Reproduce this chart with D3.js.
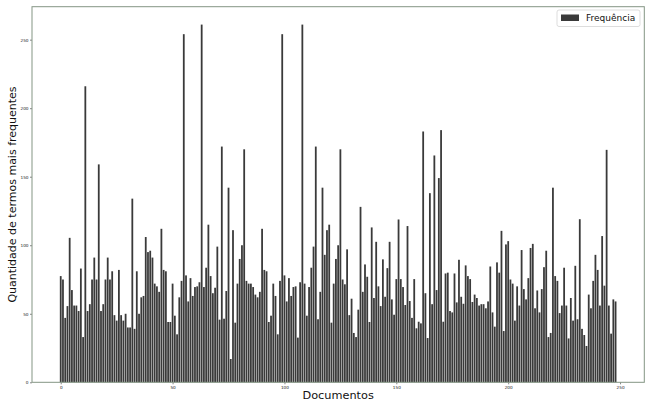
<!DOCTYPE html>
<html>
<head>
<meta charset="utf-8">
<script src="https://cdn.jsdelivr.net/npm/d3@7"></script>
<style>
  body { margin: 0; background: #fff; }
  svg { display: block; font-family: "DejaVu Sans", sans-serif; }
</style>
</head>
<body>
<script>
'use strict';
// quantidade de termos por documento
const freqValues = [
  77.5, 75, 47, 55.6, 105.4, 67.3, 56, 56, 52, 83, 33, 216, 52, 57, 75, 91, 75, 159, 52, 57,
  75, 91, 75, 81, 49, 45, 82, 49, 45, 50, 40, 40, 134, 39, 81, 50, 62, 63, 106, 95,
  96, 91, 72, 70, 66, 112, 82, 81, 44, 44, 72, 48.6, 35, 62, 74, 254, 78, 59, 76, 63,
  69.5, 70, 73, 261, 69.5, 83.6, 115, 77.5, 65, 69, 99, 45.7, 172, 46.4, 66.6, 142, 17, 111, 43.5, 72,
  90, 100, 170, 74, 72, 72, 69.5, 64, 62, 66, 112, 82, 81, 44, 48.6, 72, 63, 35, 74, 254,
  78, 59, 76, 63, 69.5, 70, 32.6, 73, 261, 72, 48.6, 69.5, 83.6, 99, 172, 46, 66, 142, 93, 111,
  115, 43.5, 72, 90, 100, 170, 75, 71.5, 97, 49, 61, 36, 33, 53, 128, 66, 86, 77, 44, 113,
  61.5, 102.5, 70, 55.6, 89.7, 62.4, 83.3, 102.5, 60.5, 49.3, 75.3, 118.8, 75.3, 69.5, 56.4, 114, 59.3, 47, 75.3, 39.4,
  44.2, 43, 183, 65, 32.3, 138, 57, 165.5, 67.3, 149, 184, 44.2, 79.4, 80, 52, 51, 79.4, 58.3, 89.4, 62.4,
  57.3, 85.3, 77.5, 75.3, 58.6, 64, 61.5, 56, 57, 57, 54, 59, 84.5, 51, 40.6, 87.5, 80, 110.5, 37.4, 100.6,
  103, 75, 72, 45, 70, 56, 96.5, 68, 60.5, 76, 98, 101, 54, 67, 51, 68, 84, 96, 33, 36,
  142, 77.5, 74, 50.5, 56, 83.6, 56, 32, 61.5, 45, 85, 46, 119, 39, 34.5, 26.5, 64, 54, 74, 93,
  82, 56, 106.7, 70.5, 169.6, 56, 35.5, 60.5, 59
];
const xTicks = [0, 50, 100, 150, 200, 250];
const yTicks = [0, 50, 100, 150, 200, 250];
const xLabel = "Documentos";
const yLabel = "Quantidade de termos mais frequentes";
const legendLabel = "Frequência";

(function () {
  let svg = "";
  const W = 650, H = 404;
  const plot = { left: 32, right: 644.3, top: 6.7, bottom: 382.3 };
  const barColor = "#3a3a3a";
  const spineColor = "#849584";

  window.onload = function () {
    svg = d3.select('body')
      .append('svg')
      .attr('width', W)
      .attr('height', H);
    makeBarChart();
  }

  function makeBarChart() {
    let docs = d3.range(freqValues.length);
    // margens como no matplotlib (5%)
    let lo = -0.4, hi = docs.length - 1 + 0.4;
    let pad = (hi - lo) * 0.05;
    let xScale = d3.scaleLinear()
      .domain([lo - pad, hi + pad])
      .range([plot.left, plot.right]);
    let yScale = d3.scaleLinear()
      .domain([0, d3.max(freqValues) * 1.05])
      .range([plot.bottom, plot.top]);

    svg.append('g')
      .selectAll('rect')
      .data(freqValues)
      .enter()
      .append('rect')
      .attr('x', (d, i) => xScale(i - 0.4))
      .attr('width', (d, i) => xScale(i + 0.4) - xScale(i - 0.4))
      .attr('y', (d) => yScale(d))
      .attr('height', (d) => yScale(0) - yScale(d))
      .attr('fill', barColor);

    drawAxes(xScale, yScale);
    drawLegend();
  }

  function drawAxes(xScale, yScale) {
    let xAxis = d3.axisBottom(xScale).tickValues(xTicks).tickSize(2).tickPadding(1.5);
    let gx = svg.append('g')
      .attr('transform', 'translate(0,' + plot.bottom + ')')
      .call(xAxis);
    let yAxis = d3.axisLeft(yScale).tickValues(yTicks).tickSize(2).tickPadding(1.5);
    let gy = svg.append('g')
      .attr('transform', 'translate(' + plot.left + ',0)')
      .call(yAxis);
    [gx, gy].forEach((g) => {
      g.select('.domain').remove();
      g.selectAll('line').attr('stroke', '#333').attr('stroke-width', 0.6);
      g.selectAll('text')
        .attr('fill', '#222')
        .style('font-size', '4.2px')
        .style('font-family', '"DejaVu Sans", sans-serif');
    });

    // moldura
    svg.append('rect')
      .attr('x', plot.left)
      .attr('y', plot.top)
      .attr('width', plot.right - plot.left)
      .attr('height', plot.bottom - plot.top)
      .attr('fill', 'none')
      .attr('stroke', spineColor)
      .attr('stroke-width', 1);

    svg.append('text')
      .attr('x', (plot.left + plot.right) / 2)
      .attr('y', 399)
      .attr('text-anchor', 'middle')
      .style('font-size', '11.3px')
      .attr('fill', '#111')
      .text(xLabel);
    svg.append('text')
      .attr('transform', 'translate(16,' + ((plot.top + plot.bottom) / 2) + ')rotate(-90)')
      .attr('text-anchor', 'middle')
      .style('font-size', '11px')
      .attr('fill', '#111')
      .text(yLabel);
  }

  function drawLegend() {
    let g = svg.append('g').attr('transform', 'translate(557,10)');
    g.append('rect')
      .attr('width', 83)
      .attr('height', 16.5)
      .attr('rx', 2)
      .attr('fill', '#fff')
      .attr('stroke', '#d4d4d4')
      .attr('stroke-width', 0.8);
    g.append('rect')
      .attr('x', 4)
      .attr('y', 4.5)
      .attr('width', 18)
      .attr('height', 6.5)
      .attr('fill', barColor);
    g.append('text')
      .attr('x', 29)
      .attr('y', 11.3)
      .style('font-size', '9px')
      .attr('fill', '#111')
      .text(legendLabel);
  }
})();
</script>
</body>
</html>
